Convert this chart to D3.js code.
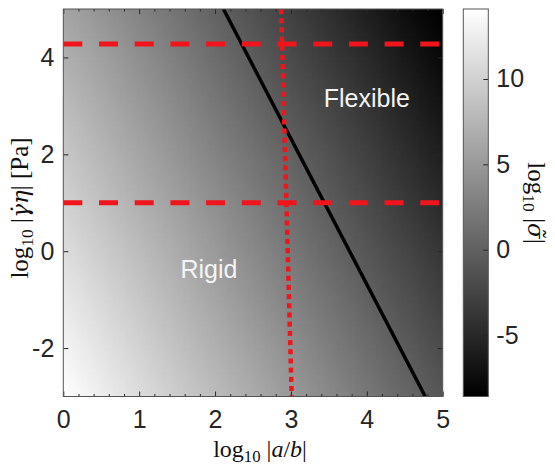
<!DOCTYPE html>
<html>
<head>
<meta charset="utf-8">
<title>Rigid / Flexible</title>
<script src="https://cdn.jsdelivr.net/npm/d3@7"></script>
<style>
  body { margin: 0; background: #fff; }
  .tick text { font-family: "Liberation Sans", Arial, sans-serif; font-size: 25px; fill: #262626; }
  .tick line { stroke: #262626; stroke-width: 1; }
  .lbl { font-family: "Liberation Serif", "DejaVu Serif", serif; font-size: 25px; fill: #111; }
  .greek { font-family: "DejaVu Serif", serif; font-size: 23px; }
  .region { font-family: "Liberation Sans", Arial, sans-serif; font-size: 25px; fill: #f4f4f4; }
</style>
</head>
<body>
<div id="chart"></div>
<script>
// log10|sigma~|, rows = gridY (top to bottom), cols = gridX
const gridX = [0, 0.5, 1, 1.5, 2, 2.5, 3, 3.5, 4, 4.5, 5];
const gridY = [5, 4, 3, 2, 1, 0, -1, -2, -3];
const sigma = [
  [ 6.1,  4.6,  3.1,  1.6,  0.1, -1.4, -2.9, -4.4, -5.9, -7.4, -8.6],
  [ 7.1,  5.6,  4.1,  2.6,  1.1, -0.4, -1.9, -3.4, -4.9, -6.4, -7.9],
  [ 8.1,  6.6,  5.1,  3.6,  2.1,  0.6, -0.9, -2.4, -3.9, -5.4, -6.9],
  [ 9.1,  7.6,  6.1,  4.6,  3.1,  1.6,  0.1, -1.4, -2.9, -4.4, -5.9],
  [10.1,  8.6,  7.1,  5.6,  4.1,  2.6,  1.1, -0.4, -1.9, -3.4, -4.9],
  [11.1,  9.6,  8.1,  6.6,  5.1,  3.6,  2.1,  0.6, -0.9, -2.4, -3.9],
  [12.1, 10.6,  9.1,  7.6,  6.1,  4.6,  3.1,  1.6,  0.1, -1.4, -2.9],
  [13.1, 11.6, 10.1,  8.6,  7.1,  5.6,  4.1,  2.6,  1.1, -0.4, -1.9],
  [14.1, 12.6, 11.1,  9.6,  8.1,  6.6,  5.1,  3.6,  2.1,  0.6, -0.9]
];
const boundary = [[2.11, 5], [4.77, -3]];   // black line
const dashedY = [4.28, 1.0];               // red dashed lines
const dotted = [[2.87, 5], [3.01, -3]];     // red dotted line
const regionNames = ["Flexible", "Rigid"];
const regionX = [4.0, 1.92];
const regionY = [2.97, -0.56];
const xTicks = [0, 1, 2, 3, 4, 5];
const yTicks = [-2, 0, 2, 4];
const cTicks = [-5, 0, 5, 10];
const xDomain = [0, 5], yDomain = [-3, 5], cDomain = [-8.6, 14.1];

let w = 555, h = 465;
let plot = { left: 63.3, right: 442.7, top: 9, bottom: 396.5 };
let bar = { left: 463.3, right: 488.3 };

let svg = d3.select("#chart").append("svg")
    .attr("width", w)
    .attr("height", h);

let x = d3.scaleLinear().domain(xDomain).range([plot.left, plot.right]);
let y = d3.scaleLinear().domain(yDomain).range([plot.bottom, plot.top]);
let cy = d3.scaleLinear().domain(cDomain).range([plot.bottom, plot.top]);
let gray = d3.scaleLinear().domain(cDomain).range(["#000", "#fff"]).clamp(true);

// heat map: one pixel per grid point, smoothed when stretched
let cv = document.createElement("canvas");
cv.width = gridX.length;
cv.height = gridY.length;
let ctx = cv.getContext("2d");
let img = ctx.createImageData(cv.width, cv.height);
sigma.forEach(function(row, j) {
  row.forEach(function(v, i) {
    let col = d3.rgb(gray(v)), k = 4 * (j * cv.width + i);
    img.data[k] = col.r; img.data[k + 1] = col.g; img.data[k + 2] = col.b; img.data[k + 3] = 255;
  });
});
ctx.putImageData(img, 0, 0);

let defs = svg.append("defs");
defs.append("clipPath").attr("id", "plotClip").append("rect")
    .attr("x", plot.left).attr("y", plot.top)
    .attr("width", plot.right - plot.left).attr("height", plot.bottom - plot.top);

let hx = (gridX[1] - gridX[0]) / 2, hy = (gridY[0] - gridY[1]) / 2;
svg.append("image")
    .attr("href", cv.toDataURL())
    .attr("x", x(gridX[0] - hx))
    .attr("y", y(gridY[0] + hy))
    .attr("width", x(gridX[gridX.length - 1] + hx) - x(gridX[0] - hx))
    .attr("height", y(gridY[gridY.length - 1] - hy) - y(gridY[0] + hy))
    .attr("preserveAspectRatio", "none")
    .attr("clip-path", "url(#plotClip)");

let line = d3.line().x(d => x(d[0])).y(d => y(d[1]));
let marks = svg.append("g").attr("clip-path", "url(#plotClip)");

marks.append("path").attr("d", line(boundary))
    .attr("fill", "none").attr("stroke", "#000").attr("stroke-width", 3.5);

marks.selectAll(".hdash").data(dashedY).enter()
  .append("path").attr("class", "hdash")
    .attr("d", d => line([[xDomain[0], d], [xDomain[1], d]]))
    .attr("fill", "none").attr("stroke", "#f0141c")
    .attr("stroke-width", 5).attr("stroke-dasharray", "19 16.7");

marks.append("path").attr("d", line(dotted))
    .attr("fill", "none").attr("stroke", "#f0141c")
    .attr("stroke-width", 4.5).attr("stroke-dasharray", "5 4.2");

svg.selectAll(".region").data(regionNames).enter()
  .append("text").attr("class", "region")
    .attr("x", (d, i) => x(regionX[i]))
    .attr("y", (d, i) => y(regionY[i]))
    .attr("text-anchor", "middle")
    .text(d => d);

// axes, ticks pointing inward
let minor = d3.range(0, 5.001, 0.2).filter(v => Math.abs(v - Math.round(v)) > 1e-6);
let fmt = d => String(d);

svg.append("g").attr("transform", "translate(0," + plot.bottom + ")")
    .call(d3.axisBottom(x).tickValues(xTicks).tickSize(-5).tickSizeOuter(0).tickPadding(14).tickFormat(fmt));
svg.append("g").attr("transform", "translate(0," + plot.bottom + ")")
    .call(d3.axisBottom(x).tickValues(minor).tickSize(-2.5).tickSizeOuter(0).tickFormat(""));
svg.append("g").attr("transform", "translate(0," + plot.top + ")")
    .call(d3.axisTop(x).tickValues(xTicks).tickSize(-5).tickSizeOuter(0).tickFormat(""));
svg.append("g").attr("transform", "translate(0," + plot.top + ")")
    .call(d3.axisTop(x).tickValues(minor).tickSize(-2.5).tickSizeOuter(0).tickFormat(""));
svg.append("g").attr("transform", "translate(" + plot.left + ",0)")
    .call(d3.axisLeft(y).tickValues(yTicks).tickSize(-5).tickSizeOuter(0).tickPadding(9).tickFormat(fmt));
svg.append("g").attr("transform", "translate(" + plot.right + ",0)")
    .call(d3.axisRight(y).tickValues(yTicks).tickSize(-5).tickSizeOuter(0).tickFormat(""));
svg.selectAll(".domain").remove();

svg.append("rect")
    .attr("x", plot.left).attr("y", plot.top)
    .attr("width", plot.right - plot.left).attr("height", plot.bottom - plot.top)
    .attr("fill", "none").attr("stroke", "#555").attr("stroke-width", 1);

// colorbar
let grad = defs.append("linearGradient").attr("id", "cbar")
    .attr("x1", 0).attr("y1", 1).attr("x2", 0).attr("y2", 0);
grad.append("stop").attr("offset", 0).attr("stop-color", gray(cDomain[0]));
grad.append("stop").attr("offset", 1).attr("stop-color", gray(cDomain[1]));

svg.append("rect")
    .attr("x", bar.left).attr("y", plot.top)
    .attr("width", bar.right - bar.left).attr("height", plot.bottom - plot.top)
    .attr("fill", "url(#cbar)");
let cAxis = svg.append("g").attr("transform", "translate(" + bar.right + ",0)")
    .call(d3.axisRight(cy).tickValues(cTicks).tickSize(-5).tickSizeOuter(0).tickPadding(8).tickFormat(fmt));
cAxis.select(".domain").remove();
svg.append("rect")
    .attr("x", bar.left).attr("y", plot.top)
    .attr("width", bar.right - bar.left).attr("height", plot.bottom - plot.top)
    .attr("fill", "none").attr("stroke", "#555").attr("stroke-width", 1);

// math-ish labels
function mathLabel(sel, parts) {
  let sub = false;
  parts.forEach(function(p) {
    let ts = sel.append("tspan").text(p.t);
    if (p.it) ts.style("font-style", "italic");
    if (p.gr) ts.attr("class", "greek");
    if (p.sub) { ts.attr("dy", 5).style("font-size", "70%"); sub = true; }
    else if (sub) { ts.attr("dy", -5); sub = false; }
  });
}

mathLabel(svg.append("text").attr("class", "lbl")
    .attr("x", 260).attr("y", 457).attr("text-anchor", "middle").style("font-size", "24px"),
  [{t: "log"}, {t: "10", sub: true}, {t: " |"}, {t: "a", it: true}, {t: "/"}, {t: "b", it: true}, {t: "|"}]);

mathLabel(svg.append("text").attr("class", "lbl")
    .attr("transform", "translate(28,208) rotate(-90)").attr("text-anchor", "middle"),
  [{t: "log"}, {t: "10", sub: true}, {t: " |"}, {t: "\u03B3\u0307\u03B7", it: true, gr: true}, {t: "|  [Pa]"}]);

mathLabel(svg.append("text").attr("class", "lbl")
    .attr("transform", "translate(528,203) rotate(90)").attr("text-anchor", "middle"),
  [{t: "log"}, {t: "10", sub: true}, {t: " |"}, {t: "\u03C3\u0303", it: true, gr: true}, {t: "|"}]);
</script>
</body>
</html>
